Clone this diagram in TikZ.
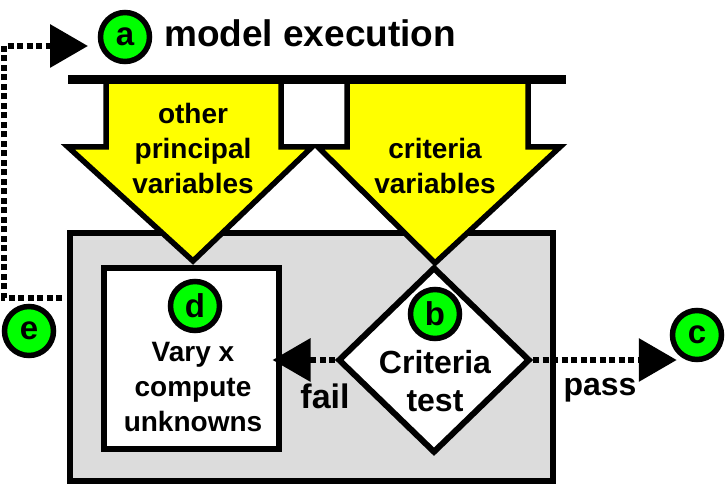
\documentclass[tikz,border=0pt]{standalone}
\usepackage{fontspec}
\setmainfont{Liberation Sans}
\usetikzlibrary{arrows.meta,shapes.geometric,calc}
\definecolor{lgreen}{HTML}{00FF00}
\definecolor{lgray}{HTML}{DCDCDC}
\definecolor{yel}{HTML}{FFFF00}
\tikzset{
  lbl/.style={circle,draw=black,fill=lgreen,line width=5.5pt,minimum size=49pt,inner sep=0pt,font=\fontsize{33}{34}\selectfont\bfseries},
  txt/.style={align=center,inner sep=0pt,font=\fontsize{28}{35}\selectfont\bfseries},
  bigarrow/.style={draw=black,fill=yel,line width=5.5pt,line join=miter,miter limit=10},
  flow/.style={line width=6.5pt,dash pattern=on 6pt off 3.5pt,-{Triangle[length=38pt,width=42pt]}},
}
\begin{document}
\begin{tikzpicture}[x=1pt,y=-1pt]
\useasboundingbox (0,0) rectangle (726,486);
% gray box
\node[draw=black,fill=lgray,line width=6.5pt,minimum width=483pt,minimum height=248pt,inner sep=0pt] (gray) at (311.5,357) {};
% yellow arrows
\draw[bigarrow] (106,80) -- (106,147) -- (68,147) -- (193,261) -- (312,147) -- (281,147) -- (281,80);
\draw[bigarrow] (347,80) -- (347,147) -- (318,147) -- (435,263) -- (560,147) -- (528,147) -- (528,80);
\draw[line width=9pt] (68,80) -- (566,80);
\node[txt] (t1) at (193,148) {other\\principal\\variables};
\node[txt] (t2) at (435,166) {criteria\\variables};
% title
\node[lbl] (a) at (125,37) {a};
\node[anchor=west,inner sep=0pt,font=\fontsize{37}{40}\selectfont\bfseries] (title) at (164,33) {model execution};
% white box
\node[draw=black,fill=white,line width=6pt,minimum width=175pt,minimum height=180.5pt,inner sep=0pt] (dbox) at (191,358.25) {};
\node[lbl] (d) at (195,306) {d};
\node[txt] (dtext) at (193,387) {Vary x\\compute\\unknowns};
% diamond
\node[diamond,draw=black,fill=white,line width=6pt,minimum width=192pt,minimum height=186pt,inner sep=0pt] (b) at (434,360) {};
\node[lbl] (bl) at (435,314) {b};
\node[txt,font=\fontsize{32}{38}\selectfont\bfseries] (btext) at (435,381) {Criteria\\test};
% c and e
\node[lbl] (c) at (697,335) {c};
\node[lbl] (e) at (29,331) {e};
% connectors
\draw[flow] (b.west) -- ($(dbox.east |- b.west)+(-9,0)$);
\draw[flow] (b.east) -- ($(b.east -| c.west)+(7,0)$);
\node[txt,font=\fontsize{34}{38}\selectfont\bfseries] (fail) at (325,396) {fail};
\node[txt,font=\fontsize{32}{38}\selectfont\bfseries] (pass) at (600,390) {pass};
\coordinate (e0) at (62,298);
\coordinate (atip) at (88,46);
\draw[flow] (e0) -| (4,46) -- (atip);
\end{tikzpicture}
\end{document}
